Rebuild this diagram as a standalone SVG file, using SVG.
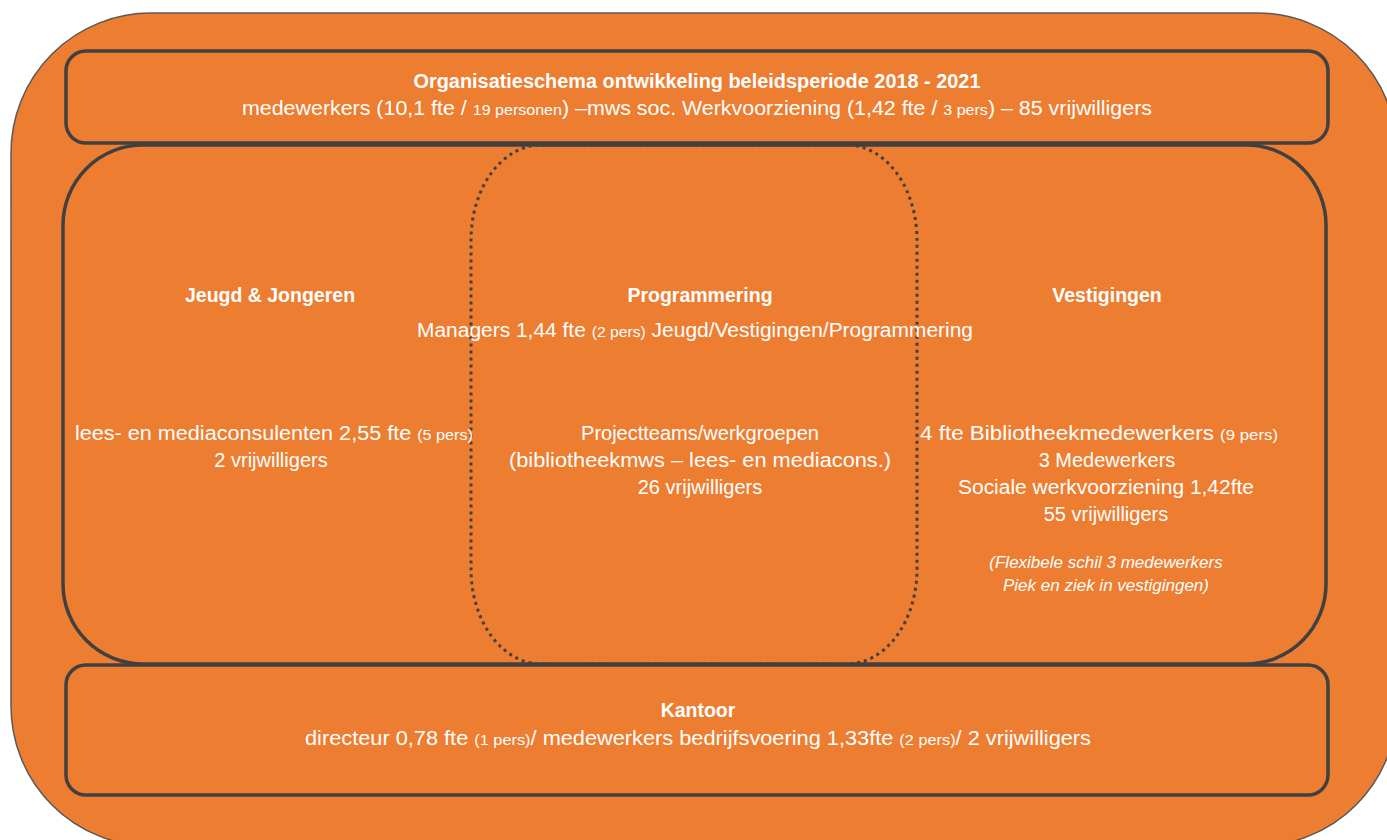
<svg xmlns="http://www.w3.org/2000/svg" width="1387" height="840" viewBox="0 0 1387 840">
<style>
.box{fill:#ED7D31;stroke:#404040;stroke-width:3.5}
.t{font-family:"Liberation Sans",Arial,sans-serif;fill:#fff;font-size:20px;text-anchor:middle}
.b{font-weight:bold;font-size:19.5px}
.s{font-size:15px}
.i{font-style:italic;font-size:17px}
</style>
<rect width="1387" height="840" fill="#fff"/>
<g id="outer"><rect x="11" y="13" width="1386" height="833" rx="140" fill="#ED7D31" stroke="#595959" stroke-width="1.5"/></g>
<g id="middle"><rect class="box" x="63" y="145" width="1263" height="519" rx="80" stroke-width="3"/></g>
<g id="programmering-zone"><rect x="471" y="145" width="446" height="519" rx="70" ry="95" fill="none" stroke="#404040" stroke-width="3" stroke-dasharray="3 4"/></g>
<g id="header">
<rect class="box" x="66" y="51" width="1262" height="92" rx="20"/>
<text class="t b" x="697" y="88" textLength="567" lengthAdjust="spacingAndGlyphs">Organisatieschema ontwikkeling beleidsperiode 2018 - 2021</text>
<text class="t" x="697" y="115" textLength="910" lengthAdjust="spacingAndGlyphs">medewerkers (10,1 fte / <tspan class="s">19 personen</tspan>) –mws soc. Werkvoorziening (1,42 fte / <tspan class="s">3 pers</tspan>) – 85 vrijwilligers</text>
</g>
<g id="jeugd">
<text class="t b" x="270" y="302">Jeugd &amp; Jongeren</text>
<text class="t" x="274" y="440" textLength="398" lengthAdjust="spacingAndGlyphs">lees- en mediaconsulenten  2,55 fte <tspan class="s">(5 pers)</tspan></text>
<text class="t" x="271" y="467">2 vrijwilligers</text>
</g>
<g id="programmering">
<text class="t b" x="700" y="302">Programmering</text>
<text class="t" x="695" y="337" textLength="556" lengthAdjust="spacingAndGlyphs">Managers 1,44 fte <tspan class="s">(2 pers)</tspan> Jeugd/Vestigingen/Programmering</text>
<text class="t" x="700" y="440">Projectteams/werkgroepen</text>
<text class="t" x="700" y="467" textLength="382" lengthAdjust="spacingAndGlyphs">(bibliotheekmws – lees- en mediacons.)</text>
<text class="t" x="700" y="494">26 vrijwilligers</text>
</g>
<g id="vestigingen">
<text class="t b" x="1107" y="302">Vestigingen</text>
<text class="t" x="1099" y="440" textLength="358" lengthAdjust="spacingAndGlyphs">4 fte Bibliotheekmedewerkers  <tspan class="s">(9 pers)</tspan></text>
<text class="t" x="1107" y="467">3 Medewerkers</text>
<text class="t" x="1106" y="494" textLength="296" lengthAdjust="spacingAndGlyphs">Sociale werkvoorziening  1,42fte</text>
<text class="t" x="1106" y="521">55 vrijwilligers</text>
<text class="t i" x="1106" y="568">(Flexibele schil 3 medewerkers</text>
<text class="t i" x="1106" y="591">Piek en ziek in vestigingen)</text>
</g>
<g id="kantoor">
<rect class="box" x="66" y="665" width="1262" height="130" rx="20"/>
<text class="t b" x="698" y="717">Kantoor</text>
<text class="t" x="698" y="745" textLength="786" lengthAdjust="spacingAndGlyphs">directeur 0,78 fte <tspan class="s">(1 pers)</tspan>/ medewerkers bedrijfsvoering 1,33fte  <tspan class="s">(2 pers)</tspan>/ 2 vrijwilligers</text>
</g>
</svg>
